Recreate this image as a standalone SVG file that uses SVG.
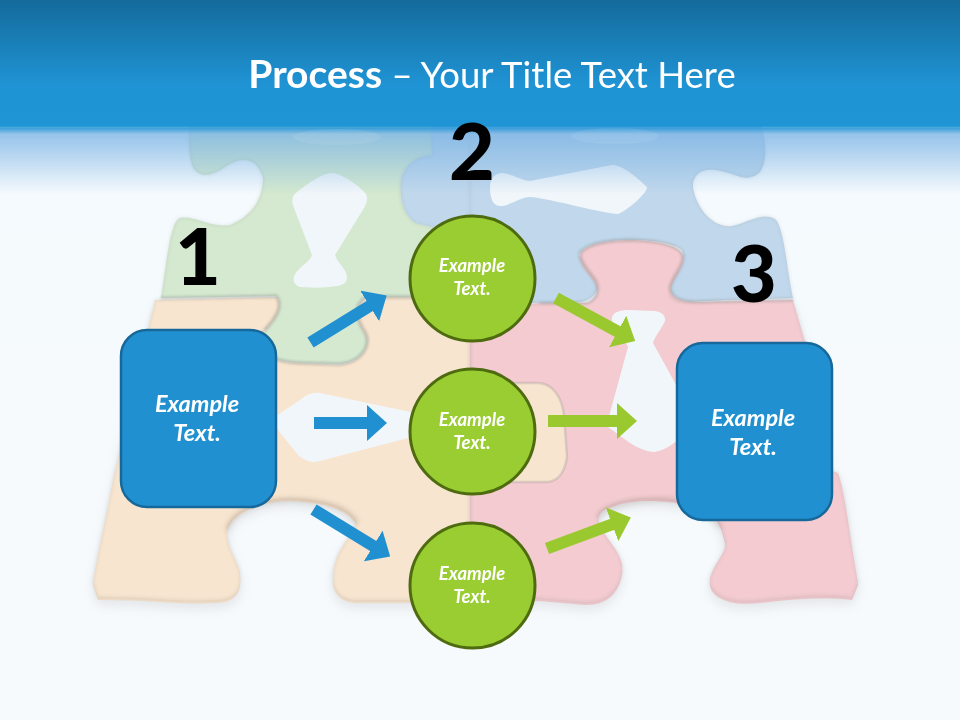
<svg xmlns="http://www.w3.org/2000/svg" width="960" height="720" viewBox="0 0 960 720">
<style>
.t{font-family:"Lato","Open Sans",sans-serif;fill:#fff;text-anchor:middle}
.e{font-weight:700;font-style:italic}
.b{font-size:23.5px}.c{font-size:18.5px}
.n{font-family:"Lato","Open Sans",sans-serif;font-weight:900;font-size:79px;fill:#000;text-anchor:middle}
.box{fill:#2190d0;stroke:#17689a;stroke-width:2.5}
.cir{fill:#9acd32;stroke:#4e6b10;stroke-width:3}
.ab{stroke:#2190d0;stroke-width:12;fill:none;marker-end:url(#hb)}
.ag{stroke:#9ac92f;stroke-width:12;fill:none;marker-end:url(#hg)}
.edge{fill:none;stroke:#8a8a8a;stroke-opacity:.1;stroke-width:3;filter:url(#s1)}
.seam{fill:none;stroke:#8a8a8a;stroke-opacity:.28;stroke-width:3;filter:url(#s1)}
.arch{fill:none;stroke:#8a6a5a;stroke-opacity:.16;stroke-width:5;filter:url(#s2)}
</style>
<defs>
<linearGradient id="bg" x1="0" y1="0" x2="0" y2="1"><stop offset="0" stop-color="#f4fafe"/><stop offset="1" stop-color="#f7fafd"/></linearGradient>
<linearGradient id="top" x1="0" y1="0" x2="0" y2="1"><stop offset="0" stop-color="#146a9b"/><stop offset=".66" stop-color="#1f93d3"/><stop offset="1" stop-color="#1f95d6"/></linearGradient>
<linearGradient id="fade" x1="0" y1="0" x2="0" y2="1"><stop offset="0" stop-color="#7ab3e4" stop-opacity=".85"/><stop offset="1" stop-color="#7ab3e4" stop-opacity="0"/></linearGradient>
<linearGradient id="lip" x1="0" y1="0" x2="0" y2="1"><stop offset="0" stop-color="#1f95d6"/><stop offset="1" stop-color="#1f95d6" stop-opacity="0"/></linearGradient>
<filter id="s1" x="-10%" y="-10%" width="120%" height="120%"><feGaussianBlur stdDeviation="1"/></filter>
<filter id="s2" x="-20%" y="-40%" width="140%" height="180%"><feGaussianBlur stdDeviation="2"/></filter>
<filter id="s6" x="-10%" y="-10%" width="120%" height="130%"><feGaussianBlur stdDeviation="6"/></filter>
<marker id="hb" markerUnits="userSpaceOnUse" markerWidth="20" markerHeight="36" viewBox="0 0 20 36" refX="1" refY="18" orient="auto"><path d="M0 0L20 18L0 36z" fill="#2190d0"/></marker>
<marker id="hg" markerUnits="userSpaceOnUse" markerWidth="20" markerHeight="36" viewBox="0 0 20 36" refX="1" refY="18" orient="auto"><path d="M0 0L20 18L0 36z" fill="#9ac92f"/></marker>
<path id="po" d="M155 300L277 297C284 306 274 318 262 332L257 345C268 358 280 363 300 363L340 365C362 362 372 345 365 332C358 322 352 306 366 297L470 297L470 600L360 600C345 601 334 594 333 580C332 552 350 540 357 523C350 506 320 499 290 498C262 498 232 510 227 528C226 548 236 556 240 572C242 594 232 600 213 600C180 602 140 596 98 597L93 582C98 550 108 510 113 480Z"/>
<path id="pg" d="M197 100C186 130 188 150 192 165C198 180 214 176 228 165C245 155 258 160 263 178C263 195 255 215 230 225C210 228 195 215 180 218C170 222 167 260 161 298L276 296C284 306 276 318 265 330L260 350C270 358 280 362 300 363L340 364C362 362 372 345 365 332C358 322 352 306 366 297L470 297L470 100Z"/>
<path id="pb" d="M430 100L765 100L760 120C766 140 768 160 760 172C745 185 735 172 715 170C700 168 692 176 693 188C698 212 715 228 732 226C750 222 762 212 775 219C784 226 787 270 793 298C760 299 720 300 690 302C668 303 668 296 672 282C680 268 686 262 682 250C672 242 650 240 630 240C605 240 582 245 579 255C585 270 602 282 596 292C590 302 580 303 560 303L470 303L445 230L415 223C404 215 399 200 401 180C404 165 418 155 432 155Z"/>
<path id="pp" d="M470 340C490 325 510 305 540 303L587 303C600 298 600 285 592 276C584 266 578 258 581 252C590 243 610 240 632 240C660 241 680 246 683 256C684 266 672 276 670 288C672 298 680 302 700 302L793 300L806 345L830 470L838 473C845 490 850 540 858 582L852 597C825 594 790 596 760 600C725 604 708 592 710 578C714 562 728 552 725 540C722 528 720 515 700 505C670 497 635 495 615 503C600 508 595 512 600 526C608 542 625 555 622 572C618 592 606 602 585 602L540 598L470 600Z"/>
</defs>
<rect width="960" height="720" fill="url(#bg)"/>
<g id="puzzle">
<g opacity=".25" fill="#a8a8a8" filter="url(#s6)"><use href="#po" y="8"/><use href="#pp" y="8"/></g>
<use href="#pg" fill="#d4e9d0"/>
<use href="#pb" fill="#c1d8ec"/>
<use href="#po" fill="#f0dcc6" y="3"/>
<use href="#pp" fill="#ecc5ca" y="3"/>
<use href="#po" fill="#f7e5cf"/>
<use href="#pp" fill="#f3cbd0"/>
<use href="#pg" class="edge"/>
<use href="#pb" class="edge"/>
<use href="#po" class="edge"/>
<use href="#pp" class="edge"/>
<path class="seam" d="M161 298L276 296C284 306 276 318 265 330M260 350C270 358 280 362 300 363L340 364C362 362 372 345 365 332C358 322 352 306 366 297L470 297"/>
<path class="seam" d="M540 303L587 303C600 298 600 285 592 276C584 266 578 258 581 252C590 243 610 240 632 240C660 241 680 246 683 256C684 266 672 276 670 288C672 298 680 302 700 302L793 300"/>
<path class="seam" d="M470 340L470 600"/>
<path class="arch" d="M227 530C232 510 262 500 290 500C320 500 350 506 357 523"/>
<path class="arch" d="M598 518C604 508 630 498 676 500L700 505L722 528"/>
<path d="M537 383C552 383 562 396 564 416L567 457C564 476 556 483 543 482L500 482L500 383Z" fill="#f7e5cf" stroke="#8a8a8a" stroke-opacity=".25" stroke-width="2.5"/>
<g fill="#f1f6fa">
<path d="M332 173C342 174 360 186 366 194C368 198 367 203 364 208L335 255C337 262 347 270 347 277C347 283 343 285 337 286C325 288 310 288 300 287C294 285 292 280 295 274C300 266 310 262 312 255L294 208C291 200 292 196 297 192C306 185 322 173 332 173Z"/>
<path d="M490 188C490 178 495 173 503 173C512 174 522 181 530 181L612 165C622 164 640 180 647 187C648 192 628 210 618 214C605 214 548 198 530 197C520 197 510 206 500 206C492 206 490 196 490 188Z"/>
<path d="M612 317C614 312 620 310 628 310L655 311C662 312 666 316 665 321C662 328 655 336 653 343L680 392L680 438C672 446 660 452 653 452C645 451 638 448 630 443L608 427L608 420L628 347C624 336 610 326 612 317Z"/>
<path d="M270 420L300 400C306 395 312 392 320 393L430 416L440 434L408 438L320 461C312 464 304 460 298 455Z"/>
</g>
</g>
<g id="header">
<rect y="128" width="960" height="66" fill="url(#fade)"/>
<rect width="960" height="126" fill="url(#top)"/>
<rect y="126" width="960" height="8" fill="url(#lip)"/>
<ellipse cx="337" cy="137" rx="44" ry="8" fill="#fff" opacity=".08"/>
<ellipse cx="615" cy="136" rx="44" ry="8" fill="#fff" opacity=".08"/>
<text x="492" y="88" class="t" font-size="36.500"><tspan font-weight="700" font-size="39">Process</tspan><tspan> – Your Title Text Here</tspan></text>
</g>
<g id="connectors">
<line class="ab" x1="310.500" y1="342.500" x2="370.500" y2="305.500"/>
<line class="ab" x1="314" y1="423" x2="368" y2="423"/>
<line class="ab" x1="313.500" y1="509.500" x2="374" y2="546.500"/>
<line class="ag" x1="556" y1="298" x2="618.500" y2="332"/>
<line class="ag" x1="548" y1="421" x2="618" y2="421"/>
<line class="ag" x1="547" y1="548.500" x2="613" y2="524"/>
</g>
<g id="label-1"><text x="198" y="285" class="n">1</text></g>
<g id="label-2"><text x="472" y="180" class="n">2</text></g>
<g id="label-3"><text x="754" y="302" class="n">3</text></g>
<g id="node-left"><rect class="box" x="121" y="330" width="155" height="177" rx="26"/><text class="t e b" x="197" y="412">Example</text><text class="t e b" x="197" y="441">Text.</text></g>
<g id="node-top"><circle class="cir" cx="472.500" cy="278.500" r="62.500"/><text class="t e c" x="472" y="272">Example</text><text class="t e c" x="472" y="295">Text.</text></g>
<g id="node-middle"><circle class="cir" cx="472.500" cy="431.500" r="62.500"/><text class="t e c" x="472" y="426">Example</text><text class="t e c" x="472" y="449">Text.</text></g>
<g id="node-bottom"><circle class="cir" cx="472.500" cy="585.500" r="62.500"/><text class="t e c" x="472" y="580">Example</text><text class="t e c" x="472" y="603">Text.</text></g>
<g id="node-right"><rect class="box" x="677" y="343" width="155" height="177" rx="26"/><text class="t e b" x="753" y="426">Example</text><text class="t e b" x="753" y="455">Text.</text></g>
</svg>
